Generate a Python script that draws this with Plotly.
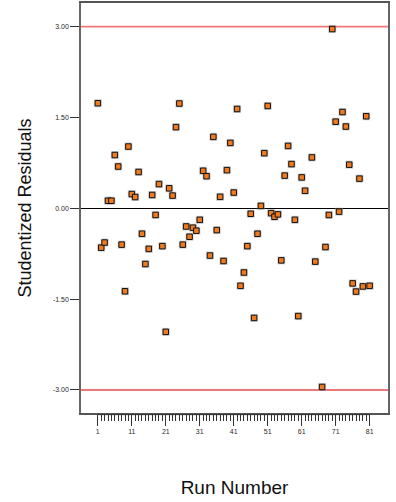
import plotly.graph_objects as go

runs = [1, 2, 3, 4, 5, 6, 7, 8, 9, 10, 11, 12, 13, 14, 15, 16, 17, 18, 19, 20,
        21, 22, 23, 24, 25, 26, 27, 28, 29, 30, 31, 32, 33, 34, 35, 36, 37, 38, 39, 40,
        41, 42, 43, 44, 45, 46, 47, 48, 49, 50, 51, 52, 53, 54, 55, 56, 57, 58, 59, 60,
        61, 62, 64, 65, 67, 68, 69, 70, 71, 72, 73, 74, 75, 76, 77, 78, 79, 80, 81]
residuals = [1.735, -0.65, -0.565, 0.125, 0.125, 0.88, 0.69, -0.60, -1.37, 1.02,
             0.235, 0.186, 0.60, -0.42, -0.92, -0.67, 0.22, -0.11, 0.40, -0.625,
             -2.04, 0.33, 0.21, 1.34, 1.73, -0.60, -0.30, -0.47, -0.32, -0.37,
             -0.19, 0.62, 0.53, -0.78, 1.18, -0.36, 0.19, -0.87, 0.63, 1.08,
             0.26, 1.64, -1.28, -1.06, -0.625, -0.09, -1.81, -0.42, 0.04, 0.91,
             1.69, -0.08, -0.14, -0.10, -0.86, 0.54, 1.03, 0.73, -0.19, -1.78,
             0.51, 0.29, 0.84, -0.88, -2.95, -0.64, -0.11, 2.96, 1.43, -0.055,
             1.59, 1.35, 0.72, -1.24, -1.375, 0.49, -1.29, 1.52, -1.28]

limits = [3.0, -3.0]
y_ticks = [-3.0, -1.5, 0.0, 1.5, 3.0]
y_ticktext = ["-3.00", "-1.50", "0.00", "1.50", "3.00"]
x_ticks = [1, 11, 21, 31, 41, 51, 61, 71, 81]
x_minor = list(range(1, 82))

fig = go.Figure()

# soft grey halo (shadow)
fig.add_trace(go.Scatter(
    x=runs, y=residuals, mode="markers",
    marker=dict(symbol="square", size=8, color="rgba(150,150,150,0.45)",
                line=dict(width=0)),
    hoverinfo="skip", showlegend=False))
fig.add_trace(go.Scatter(
    x=runs, y=residuals, mode="markers",
    marker=dict(symbol="square", size=5.5, color="#F07A1E",
                line=dict(color="#111111", width=1)),
    showlegend=False))

for lim in limits:
    fig.add_hline(y=lim, line=dict(color="#EE7777", width=1.8), layer="below")

# baseline under the run ticks
fig.add_shape(type="line", xref="x", yref="paper",
              x0=runs[0], x1=runs[-1], y0=-0.004, y1=-0.004,
              line=dict(color="#333333", width=1))

fig.update_layout(
    width=396, height=502,
    margin=dict(l=81, r=8, t=1, b=89),
    paper_bgcolor="white", plot_bgcolor="white",
    font=dict(family="Liberation Sans, Arial, sans-serif", color="#222222"),
    xaxis=dict(
        range=[-3.95, 86.4],
        tickmode="array", tickvals=x_ticks,
        ticks="outside", ticklen=11, tickwidth=1, tickcolor="#333333",
        tickfont=dict(size=7, color="#2a2a2a"),
        minor=dict(tickmode="array", tickvals=x_minor, ticks="outside",
                   ticklen=6, tickwidth=1, tickcolor="#333333", showgrid=False),
        showgrid=False, zeroline=False,
        showline=True, linecolor="#555555", linewidth=1.5, mirror=True,
        title=dict(text="Run Number", font=dict(size=19, color="#111111"),
                   standoff=47),
    ),
    yaxis=dict(
        range=[-3.38, 3.39],
        tickmode="array", tickvals=y_ticks, ticktext=y_ticktext,
        ticks="outside", ticklen=9, tickwidth=1, tickcolor="#333333",
        tickfont=dict(size=7, color="#2a2a2a"),
        showgrid=False,
        zeroline=True, zerolinecolor="#000000", zerolinewidth=1.3,
        showline=True, linecolor="#666666", linewidth=1.5, mirror=True,
        title=dict(text="Studentized Residuals", font=dict(size=18, color="#111111"),
                   standoff=17),
    ),
)

fig.write_html("out.html")
